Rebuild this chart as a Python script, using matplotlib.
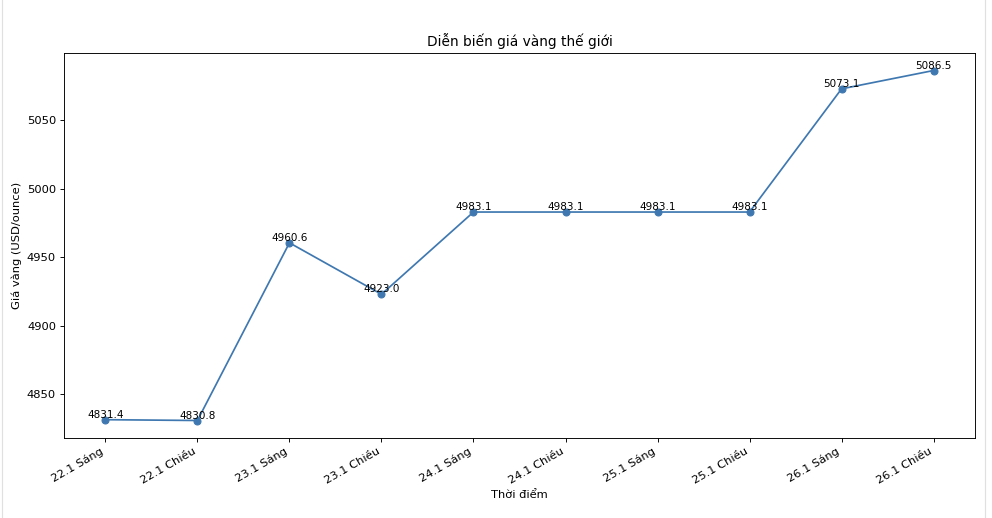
import matplotlib
matplotlib.use("Agg")
import matplotlib.pyplot as plt
from matplotlib.lines import Line2D

# du lieu gia vang
labels = ["22.1 Sáng", "22.1 Chiều", "23.1 Sáng", "23.1 Chiều", "24.1 Sáng",
          "24.1 Chiều", "25.1 Sáng", "25.1 Chiều", "26.1 Sáng", "26.1 Chiều"]
prices = [4831.4, 4830.8, 4960.6, 4923.0, 4983.1,
          4983.1, 4983.1, 4983.1, 5073.1, 5086.5]

dpi = 992 / 12
fig = plt.figure(figsize=(12, 518 / dpi), dpi=dpi)
ax = fig.add_axes([64/992, 1 - 438/518, (975 - 64)/992, (438 - 53)/518])

x = list(range(len(labels)))
ax.plot(x, prices, marker='o', color='#3f78b0')
for xi, p in zip(x, prices):
    ax.text(xi, p, f"{p:.1f}", ha='center', va='bottom', fontsize=9)

ax.set_xticks(x)
ax.set_xticklabels(labels, rotation=30, ha='right')
ax.set_title("Diễn biến giá vàng thế giới")
ax.set_xlabel("Thời điểm")
ax.set_ylabel("Giá vàng (USD/ounce)")

# khung mo cua notebook
fig.add_artist(Line2D([2/992, 2/992], [0, 1], color='#e0e0e0', lw=1))
fig.add_artist(Line2D([985/992, 985/992], [0, 1], color='#e0e0e0', lw=1))

fig.savefig("out.png", dpi=dpi)
